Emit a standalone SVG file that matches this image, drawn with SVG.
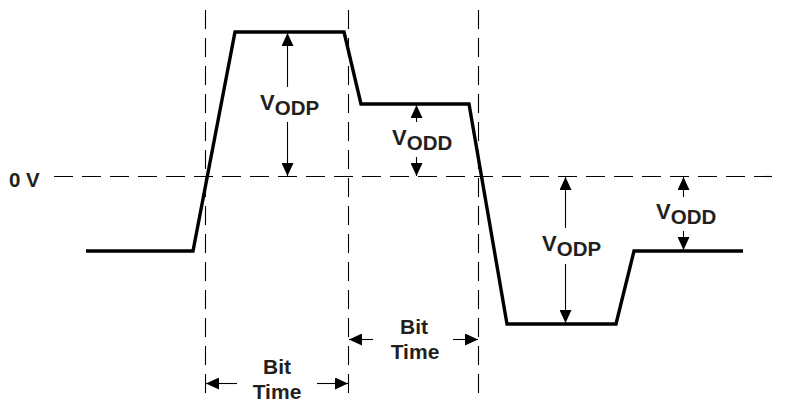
<svg xmlns="http://www.w3.org/2000/svg" width="802" height="402" viewBox="0 0 802 402">
<defs>
<style>
.dash{stroke:#000;stroke-width:1.1;stroke-dasharray:19 9;fill:none}
.wave{stroke:#000;stroke-width:3.4;fill:none;stroke-linejoin:miter}
.dim{stroke:#000;stroke-width:1.1;fill:none;marker-end:url(#ah)}
.t{font-family:"Liberation Sans",Arial,sans-serif;font-weight:bold;fill:#231f20}
.big{font-size:22px}
.sub{font-size:20.5px}
.bt{font-size:21px}
</style>
<marker id="ah" markerUnits="userSpaceOnUse" markerWidth="13" markerHeight="12" refX="13" refY="6" orient="auto">
<path d="M0,0 L13,6 L0,12 z" fill="#000"/>
</marker>
</defs>
<rect width="802" height="402" fill="#fff"/>
<g id="gridlines">
<line class="dash" x1="54" y1="176.5" x2="772" y2="176.5"/>
<line class="dash" x1="205.5" y1="10" x2="205.5" y2="398"/>
<line class="dash" x1="348.5" y1="10" x2="348.5" y2="398"/>
<line class="dash" x1="478.5" y1="10" x2="478.5" y2="398"/>
</g>
<g id="waveform">
<polyline class="wave" points="86,251 193,251 235,32 344,32 361,104 469,104 507,324 616,324 634,251 743,251"/>
</g>
<g id="connectors">
<line class="dim" x1="287.5" y1="87" x2="287.5" y2="33"/>
<line class="dim" x1="287.5" y1="122" x2="287.5" y2="176"/>
<line class="dim" x1="416.5" y1="122" x2="416.5" y2="105"/>
<line class="dim" x1="416.5" y1="157" x2="416.5" y2="176"/>
<line class="dim" x1="565.5" y1="228" x2="565.5" y2="177"/>
<line class="dim" x1="565.5" y1="264" x2="565.5" y2="323"/>
<line class="dim" x1="683.5" y1="197" x2="683.5" y2="177"/>
<line class="dim" x1="683.5" y1="231" x2="683.5" y2="250"/>
<line class="dim" x1="237" y1="383.5" x2="206" y2="383.5"/>
<line class="dim" x1="317" y1="383.5" x2="348" y2="383.5"/>
<line class="dim" x1="373" y1="339.5" x2="349" y2="339.5"/>
<line class="dim" x1="453" y1="339.5" x2="478" y2="339.5"/>
</g>
<g id="label-0v"><text class="t" x="9" y="187" font-size="20.5">0 V</text></g>
<g id="label-vodp1"><text class="t big" x="260" y="110">V<tspan class="sub" dy="5">ODP</tspan></text></g>
<g id="label-vodd1"><text class="t big" x="392" y="145">V<tspan class="sub" dy="5">ODD</tspan></text></g>
<g id="label-vodp2"><text class="t big" x="542" y="251">V<tspan class="sub" dy="5">ODP</tspan></text></g>
<g id="label-vodd2"><text class="t big" x="656" y="219">V<tspan class="sub" dy="5">ODD</tspan></text></g>
<g id="label-bit1" class="t bt" text-anchor="middle"><text x="277" y="374">Bit</text><text x="277" y="399">Time</text></g>
<g id="label-bit2" class="t bt" text-anchor="middle"><text x="414" y="334">Bit</text><text x="415" y="359">Time</text></g>
</svg>
